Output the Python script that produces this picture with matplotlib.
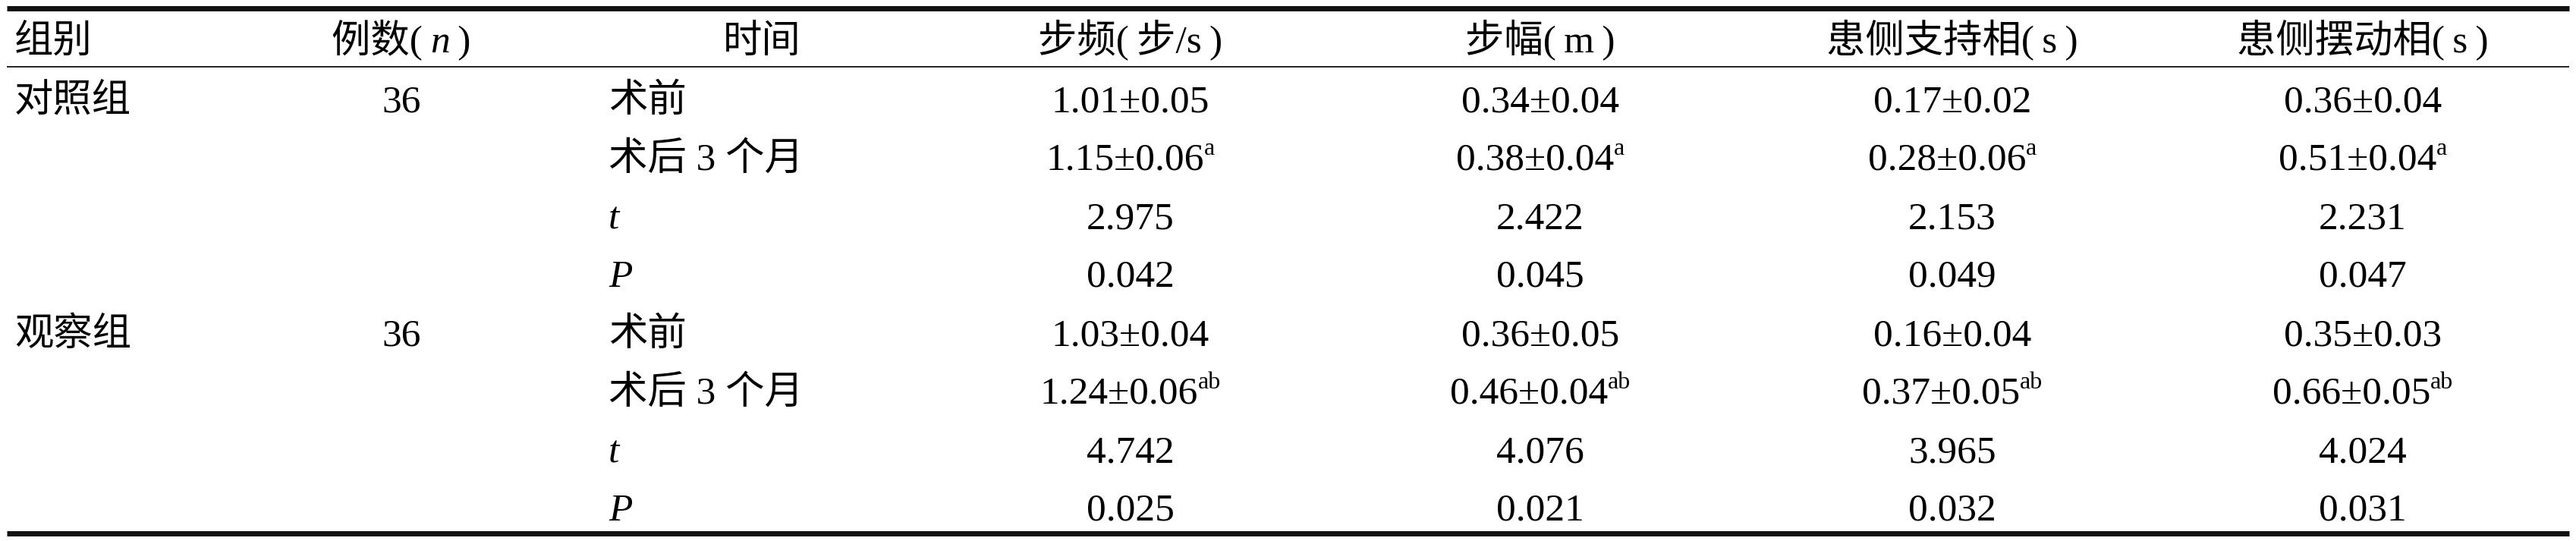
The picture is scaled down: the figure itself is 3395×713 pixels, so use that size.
import matplotlib.pyplot as plt

# table content
headers = ["组别", "例数(n)", "时间", "步频(\u2009步/s\u2009)", "步幅(\u2009m\u2009)",
           "患侧支持相(\u2009s\u2009)", "患侧摆动相(\u2009s\u2009)"]
groups = ["对照组", "观察组"]
cases = ["36", "36"]
periods = ["术前", "术后 3 个月", "t", "P"]
italic_periods = {"t", "P"}

step_freq = ["1.01±0.05", "1.15±0.06", "2.975", "0.042",
             "1.03±0.04", "1.24±0.06", "4.742", "0.025"]
step_len = ["0.34±0.04", "0.38±0.04", "2.422", "0.045",
            "0.36±0.05", "0.46±0.04", "4.076", "0.021"]
stance = ["0.17±0.02", "0.28±0.06", "2.153", "0.049",
          "0.16±0.04", "0.37±0.05", "3.965", "0.032"]
swing = ["0.36±0.04", "0.51±0.04", "2.231", "0.047",
         "0.35±0.03", "0.66±0.05", "4.024", "0.031"]
sig_marks = ["", "a", "", "", "", "ab", "", ""]

value_columns = [step_freq, step_len, stance, swing]

# layout in pixels
W, H = 3395, 713
FONT = ["Liberation Serif", "Noto Sans CJK SC"]
SIZE = 37
SUP_SIZE = 23
SUP_RISE = 20
group_x = 19
cases_x = 529
period_x = 802
period_head_x = 1004
value_x = [1490, 2030, 2573, 3114]
header_base = 69
first_base = 147
row_step = 77

fig = plt.figure(figsize=(W / 100, H / 100), dpi=100)
ax = fig.add_axes([0, 0, 1, 1])
ax.set_xlim(0, W)
ax.set_ylim(H, 0)
ax.axis("off")
renderer = fig.canvas.get_renderer()


def draw_runs(x, y, runs, ha="center"):
    texts, widths = [], []
    for text, style in runs:
        kw = dict(family=FONT, fontsize=SIZE, color="black", va="baseline", ha="left")
        kw.update(style)
        rise = kw.pop("rise", 0)
        item = ax.text(0, y - rise, text, **kw)
        texts.append(item)
        widths.append(item.get_window_extent(renderer).width)
    start = x - sum(widths) / 2 if ha == "center" else x
    for item, width in zip(texts, widths):
        item.set_x(start)
        start += width


italic = {"family": ["Liberation Serif"], "style": "italic"}
sup = {"family": ["Liberation Serif"], "fontsize": SUP_SIZE, "rise": SUP_RISE}

# header row
draw_runs(group_x, header_base, [(headers[0], {})], ha="left")
draw_runs(cases_x, header_base, [("例数(\u2009", {}), ("n", italic), ("\u2009)", {})])
draw_runs(period_head_x, header_base, [(headers[2], {})])
for x, label in zip(value_x, headers[3:]):
    draw_runs(x, header_base, [(label, {})])

# body rows
n_periods = len(periods)
for g, (group, n) in enumerate(zip(groups, cases)):
    base = first_base + g * n_periods * row_step
    draw_runs(group_x, base, [(group, {})], ha="left")
    draw_runs(cases_x, base, [(n, {})])
    for p, period in enumerate(periods):
        style = italic if period in italic_periods else {}
        draw_runs(period_x, base + p * row_step, [(period, style)], ha="left")

for x, column in zip(value_x, value_columns):
    for r, (value, mark) in enumerate(zip(column, sig_marks)):
        runs = [(value, {})]
        if mark:
            runs.append((mark, sup))
        draw_runs(x, first_base + r * row_step, runs)

# three-line table rules
ax.hlines(11, 9, 3386, color="#111111", linewidth=5.0)
ax.hlines(88, 9, 3386, color="#222222", linewidth=1.4)
ax.hlines(703, 9, 3386, color="#111111", linewidth=5.0)

fig.savefig("out.png", dpi=100)
plt.close(fig)
